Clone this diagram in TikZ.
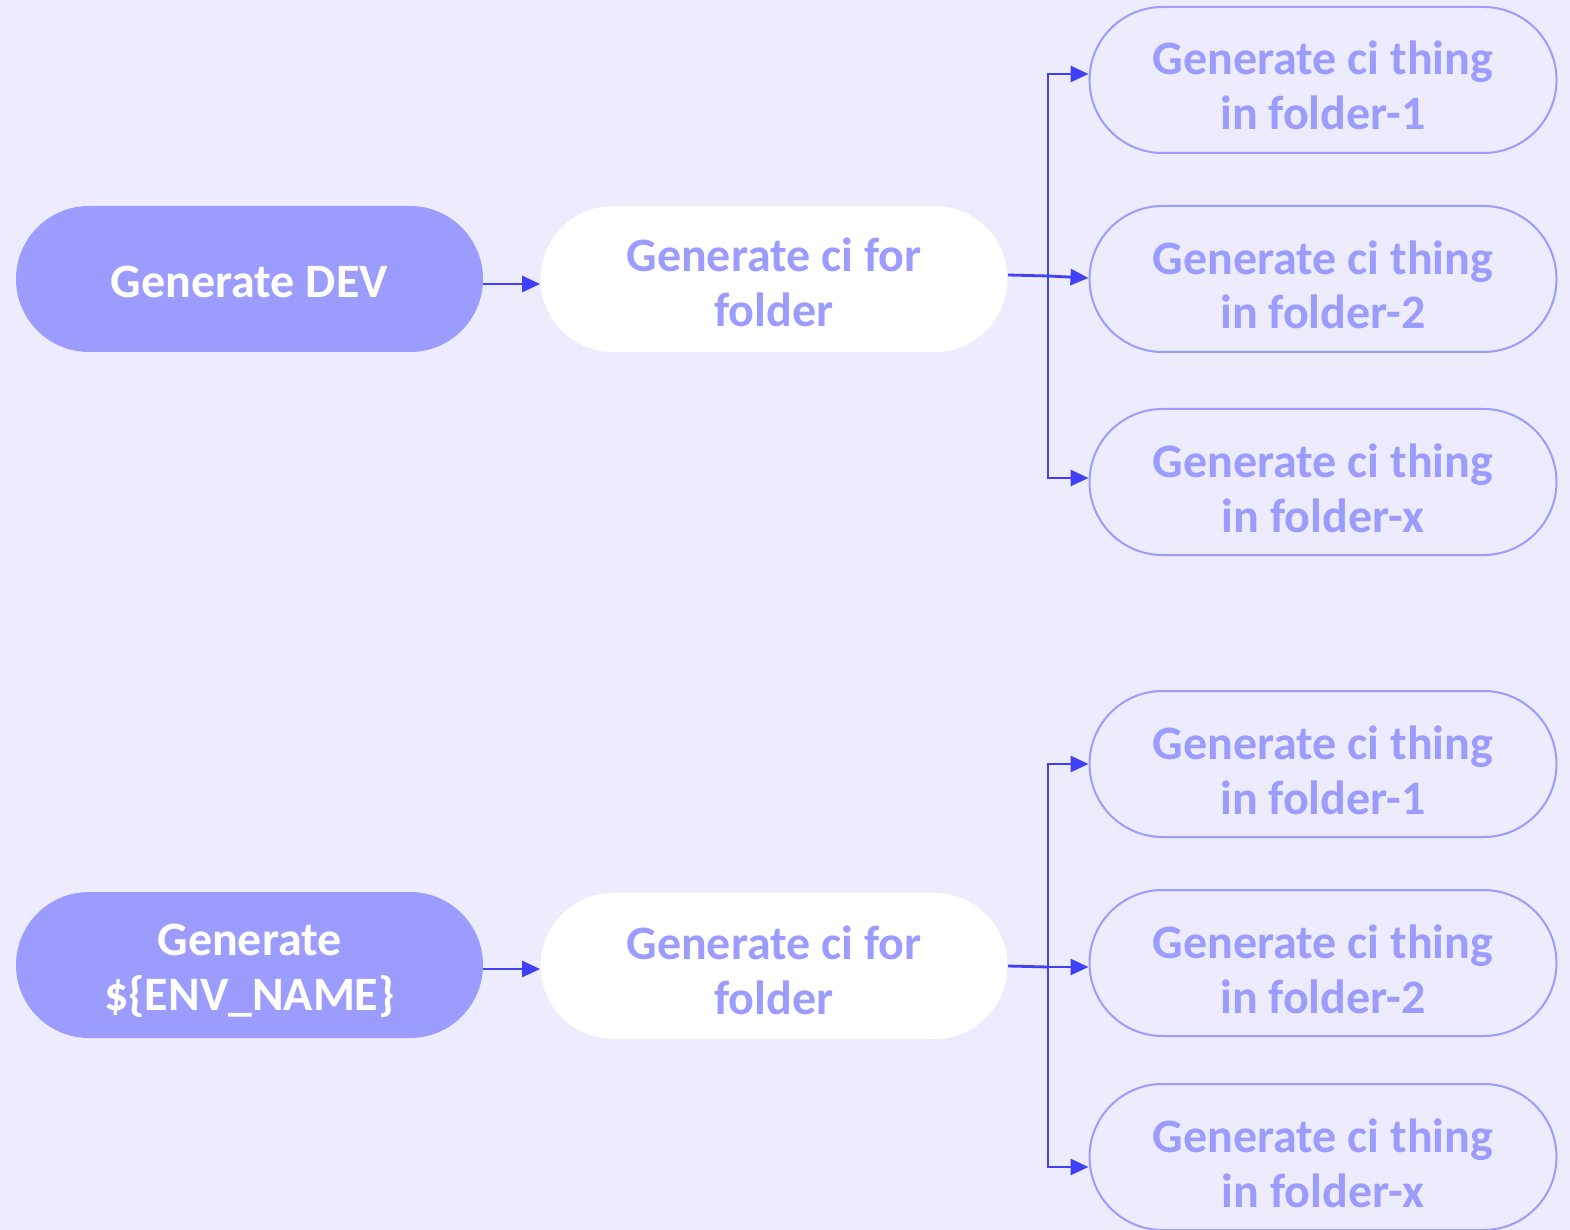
\documentclass[tikz,border=0pt]{standalone}
\usepackage{fontspec}
\setmainfont{Carlito}
\usetikzlibrary{arrows.meta}
\definecolor{bg}{HTML}{ECECFE}
\definecolor{pur}{HTML}{9C9CFF}
\definecolor{arr}{HTML}{4040F8}
\begin{document}
\begin{tikzpicture}[x=0.5pt,y=-0.5pt,
  base/.style={rectangle,rounded corners=36.5pt,minimum width=233.5pt,minimum height=73pt,
    align=center,font=\fontsize{24}{27.5}\selectfont\bfseries,inner sep=0pt,
    text depth=0pt,text height=50pt},
  startbox/.style={base,fill=pur,text=white},
  midbox/.style={base,fill=white,text=pur,text height=48pt},
  leafbox/.style={base,draw=pur,line width=1pt,fill=bg,text=pur},
  conn/.style={draw=arr,line width=1.4pt,-{Triangle[length=9pt,width=8pt]}},
  plain/.style={draw=arr,line width=1.4pt}]
\fill[bg] (0,0) rectangle (1570,1230);
\useasboundingbox (0,0) rectangle (1570,1230);
% top
\node[startbox,text height=19pt] (a1) at (249.5,279) {Generate DEV};
\node[midbox] (b1) at (774,279) {Generate ci for\\folder};
\node[leafbox] (r11) at (1323,80) {Generate ci thing\\in folder-1};
\node[leafbox] (r12) at (1323,279) {Generate ci thing\\in folder-2};
\node[leafbox] (r13) at (1323,482) {Generate ci thing\\in folder-x};
\coordinate (j1) at (1048,276);
\draw[conn] ([yshift=-2.5pt]a1.east) -- ([yshift=-2.5pt]b1.west);
\draw[plain] ([yshift=2pt]b1.east) -- (j1);
\draw[conn] (j1) |- ([yshift=3pt]r11.west);
\draw[conn] (j1) -- ([yshift=0.5pt]r12.west);
\draw[conn] (j1) |- ([yshift=2pt]r13.west);
% bottom
\node[startbox,text height=45pt] (a2) at (249.5,965) {Generate\\\$\{ENV\_NAME\}};
\node[midbox] (b2) at (774,966) {Generate ci for\\folder};
\node[leafbox] (r21) at (1323,764) {Generate ci thing\\in folder-1};
\node[leafbox] (r22) at (1323,963) {Generate ci thing\\in folder-2};
\node[leafbox] (r23) at (1323,1157) {Generate ci thing\\in folder-x};
\coordinate (j2) at (1048,967);
\draw[conn] ([yshift=-2pt]a2.east) -- ([yshift=-1.5pt]b2.west);
\draw[plain] ([yshift=0pt]b2.east) -- (j2);
\draw[conn] (j2) |- (r21.west);
\draw[conn] (j2) -- ([yshift=-2pt]r22.west);
\draw[conn] (j2) |- ([yshift=-5pt]r23.west);
\end{tikzpicture}
\end{document}
